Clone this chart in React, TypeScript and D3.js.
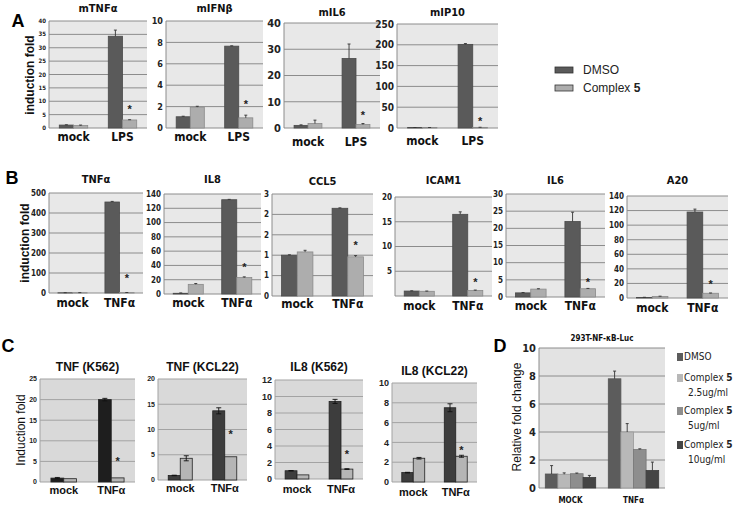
import React from "react";
import * as d3 from "d3";

// ---------- DATA ----------
const CATS_LPS = ["mock", "LPS"];
const CATS_TNF = ["mock", "TNFα"];
const CATS_D = ["MOCK", "TNFα"];

// Panel A
const A1_DMSO = [1.1, 34.3];
const A1_DMSO_ERR = [0.1, 2.3];
const A1_CPX = [0.9, 3.0];
const A1_CPX_ERR = [0.2, 0.1];
const A1_STAR = 8;
const A1_TICKS = [0, 5, 10, 15, 20, 25, 30, 35, 40];

const A2_DMSO = [1.05, 7.65];
const A2_DMSO_ERR = [0.05, 0.03];
const A2_CPX = [1.95, 0.95];
const A2_CPX_ERR = [0.08, 0.25];
const A2_STAR = 2.4;
const A2_TICKS = [0, 2, 4, 6, 8, 10];

const A3_DMSO = [1.0, 26.5];
const A3_DMSO_ERR = [0.2, 5.5];
const A3_CPX = [1.7, 1.3];
const A3_CPX_ERR = [1.3, 0.4];
const A3_STAR = 5.7;
const A3_TICKS = [0, 10, 20, 30, 40];

const A4_DMSO = [1.0, 201];
const A4_DMSO_ERR = [0.2, 2];
const A4_CPX = [1.0, 1.5];
const A4_CPX_ERR = [0.2, 0.3];
const A4_STAR = 22;
const A4_TICKS = [0, 50, 100, 150, 200, 250];

// Panel B
const B1_DMSO = [1, 455];
const B1_DMSO_ERR = [0.5, 3];
const B1_CPX = [1.5, 2];
const B1_CPX_ERR = [0.3, 0.5];
const B1_STAR = 85;
const B1_TICKS = [0, 100, 200, 300, 400, 500];

const B2_DMSO = [1, 132];
const B2_DMSO_ERR = [0.5, 0.5];
const B2_CPX = [13.5, 23];
const B2_CPX_ERR = [1.2, 1];
const B2_STAR = 40;
const B2_TICKS = [0, 20, 40, 60, 80, 100, 120, 140];

const B3_DMSO = [1.0, 2.15];
const B3_DMSO_ERR = [0.01, 0.01];
const B3_CPX = [1.08, 0.96];
const B3_CPX_ERR = [0.04, 0.03];
const B3_STAR = 1.3;
const B3_TICKS = [0, 0.5, 1, 1.5, 2, 2.5];
const B3_TICK_LABELS = ["0", "1", "1", "2", "2", "3"];

const B4_DMSO = [1.0, 16.5];
const B4_DMSO_ERR = [0.05, 0.5];
const B4_CPX = [0.95, 1.1];
const B4_CPX_ERR = [0.05, 0.1];
const B4_STAR = 3.2;
const B4_TICKS = [0, 5, 10, 15, 20];
const B4_TICK_LABELS = ["", "5", "10", "15", "20"];

const B5_DMSO = [1.2, 22];
const B5_DMSO_ERR = [0.1, 2.7];
const B5_CPX = [2.3, 2.4];
const B5_CPX_ERR = [0.1, 0.1];
const B5_STAR = 5;
const B5_TICKS = [0, 5, 10, 15, 20, 25, 30];

const B6_DMSO = [0.8, 118];
const B6_DMSO_ERR = [0.2, 4];
const B6_CPX = [2.2, 6.5];
const B6_CPX_ERR = [0.3, 0.4];
const B6_STAR = 22;
const B6_TICKS = [0, 20, 40, 60, 80, 100, 120, 140];

// Panel C
const C1_DMSO = [0.95, 20];
const C1_DMSO_ERR = [0.15, 0.3];
const C1_CPX = [0.8, 1.0];
const C1_CPX_ERR = [0, 0];
const C1_STAR = 5.5;
const C1_TICKS = [0, 5, 10, 15, 20, 25];

const C2_DMSO = [0.9, 13.7];
const C2_DMSO_ERR = [0.05, 0.6];
const C2_CPX = [4.3, 4.6];
const C2_CPX_ERR = [0.5, 0];
const C2_STAR = 9.5;
const C2_TICKS = [0, 5, 10, 15, 20];

const C3_DMSO = [1.0, 9.4];
const C3_DMSO_ERR = [0.03, 0.25];
const C3_CPX = [0.5, 1.2];
const C3_CPX_ERR = [0, 0.05];
const C3_STAR = 3.3;
const C3_TICKS = [0, 2, 4, 6, 8, 10, 12];

const C4_DMSO = [0.95, 7.5];
const C4_DMSO_ERR = [0.03, 0.4];
const C4_CPX = [2.4, 2.6];
const C4_CPX_ERR = [0.08, 0.1];
const C4_STAR = 3.4;
const C4_TICKS = [0, 2, 4, 6, 8, 10];

// Panel D
const D_DMSO = [1.0, 7.8];
const D_DMSO_ERR = [0.6, 0.55];
const D_C25 = [0.98, 4.0];
const D_C25_ERR = [0.1, 0.6];
const D_C5 = [1.02, 2.75];
const D_C5_ERR = [0.05, 0.05];
const D_C10 = [0.75, 1.25];
const D_C10_ERR = [0.15, 0.6];
const D_TICKS = [0, 2, 4, 6, 8, 10];
const D_LEGEND = [
  ["DMSO"],
  ["Complex ", "5", "2.5ug/ml"],
  ["Complex ", "5", "5ug/ml"],
  ["Complex ", "5", "10ug/ml"],
];

// ---------- STYLE ----------
const NARROW = "'Liberation Sans Narrow','DejaVu Sans Condensed',Arial,sans-serif";
const SANS = "'Liberation Sans',Arial,sans-serif";

type PanelProps = {
  x0: number; x1: number; yTop: number; yBot: number;
  max: number; ticks: number[]; tickLabels?: string[];
  cats: string[]; series: number[][]; errs: number[][];
  fills: string[]; strokes: string[];
  star?: number; title: string; titleX?: number; titleY: number; titleFs: number;
  titleFont?: string;
  tickFs: number; tickFont?: string; catFs: number; catDy: number; catFont?: string;
  bg: string; grid: string; pad: number; both?: boolean; capW?: number;
  errColor?: string;
};

function Panel(p: PanelProps) {
  const y = d3.scaleLinear().domain([0, p.max]).range([p.yBot, p.yTop]);
  const xb = d3.scaleBand<string>().domain(p.cats).range([p.x0, p.x1])
    .paddingInner(p.pad).paddingOuter(p.pad / 2);
  const xs = d3.scaleBand<number>().domain(p.series.map((_, i) => i))
    .range([0, xb.bandwidth()]);
  const capW = p.capW ?? 3;
  const tl = p.tickLabels ?? p.ticks.map(String);
  const tx = p.titleX ?? (p.x0 + p.x1) / 2;
  return (
    <g>
      <rect x={p.x0} y={p.yTop} width={p.x1 - p.x0} height={p.yBot - p.yTop} fill={p.bg} />
      {p.ticks.map((t, i) => (
        t > 0 ? <line key={"g" + i} x1={p.x0} x2={p.x1} y1={y(t)} y2={y(t)} stroke={p.grid} strokeWidth={1} /> : null
      ))}
      <line x1={p.x0} x2={p.x0} y1={p.yTop} y2={p.yBot} stroke={p.grid} />
      <line x1={p.x0} x2={p.x1} y1={p.yBot} y2={p.yBot} stroke={p.grid} />
      {p.ticks.map((t, i) => (
        <text key={"t" + i} x={p.x0 - 3} y={y(t)} dy="0.35em" textAnchor="end"
          fontSize={p.tickFs} fontFamily={p.tickFont ?? NARROW} fontWeight="bold" fill="#222">{tl[i]}</text>
      ))}
      {p.series.map((s, si) => s.map((v, ci) => {
        const bx = (xb(p.cats[ci]) as number) + (xs(si) as number);
        const bw = xs.bandwidth();
        const e = p.errs[si][ci];
        const cx = bx + bw / 2;
        return (
          <g key={si + "-" + ci}>
            <rect x={bx} y={y(v)} width={bw} height={p.yBot - y(v)} fill={p.fills[si]} stroke={p.strokes[si]} strokeWidth={0.8} />
            {e > 0 ? (
              <g stroke={p.errColor ?? "#333"} strokeWidth={0.9}>
                <line x1={cx} x2={cx} y1={y(v + e)} y2={p.both ? y(v - e) : y(v)} />
                <line x1={cx - capW / 2} x2={cx + capW / 2} y1={y(v + e)} y2={y(v + e)} />
                {p.both ? <line x1={cx - capW / 2} x2={cx + capW / 2} y1={y(v - e)} y2={y(v - e)} /> : null}
              </g>
            ) : null}
          </g>
        );
      }))}
      {p.star !== undefined ? (
        <text x={(xb(p.cats[1]) as number) + (xs(1) as number) + xs.bandwidth() / 2} y={y(p.star)} dy="0.55em"
          textAnchor="middle" fontSize={11} fontFamily={SANS} fontWeight="bold" fill="#222">*</text>
      ) : null}
      {p.cats.map((c) => (
        <text key={c} x={(xb(c) as number) + xb.bandwidth() / 2} y={p.yBot + p.catDy} textAnchor="middle"
          fontSize={p.catFs} fontFamily={p.catFont ?? NARROW} fontWeight="bold" fill="#111">{c}</text>
      ))}
      <text x={tx} y={p.titleY} textAnchor="middle" fontSize={p.titleFs} fontFamily={p.titleFont ?? NARROW}
        fontWeight="bold" fill="#111">{p.title}</text>
    </g>
  );
}

const AB_FILLS = ["#5a5a5a", "#adadad"];
const AB_STROKES = ["#4a4a4a", "#8a8a8a"];
const AB_BG = "#e8e8e8";
const AB_GRID = "#8c8c8c";
const D_FILLS = ["#5c5c5c", "#b8b8b8", "#8e8e8e", "#444444"];

export default function App() {
  const ab = { fills: AB_FILLS, strokes: AB_STROKES, bg: AB_BG, grid: AB_GRID, pad: 0.42 };
  const cc = { bg: "#d9d9d9", grid: "#a3a3a3", pad: 0.46, both: true, capW: 5, errColor: "#111",
    titleFont: SANS, catFont: SANS, tickFont: SANS, strokes: ["#222", "#222"] };
  const legendY = [360, 381, 414, 448];
  return (
    <svg width={741} height={516} style={{ position: "absolute", left: 0, top: 0, background: "#fff" }}>
      <rect width={741} height={516} fill="#fff" />
      {/* Panel labels */}
      {[["A", 18, 27], ["B", 12, 184], ["C", 8, 352], ["D", 500, 352]].map(([t, x, yy]) => (
        <text key={t as string} x={x as number} y={yy as number} textAnchor="middle" fontSize={18}
          fontFamily={SANS} fontWeight="bold">{t}</text>
      ))}

      {/* Panel A */}
      <Panel {...ab} x0={49} x1={147} yTop={21} yBot={128} max={40} ticks={A1_TICKS}
        cats={CATS_LPS} series={[A1_DMSO, A1_CPX]} errs={[A1_DMSO_ERR, A1_CPX_ERR]} star={A1_STAR}
        title="mTNFα" titleY={12} titleFs={11} tickFs={6} catFs={12} catDy={13} />
      <Panel {...ab} x0={166} x1={263} yTop={21} yBot={128} max={10} ticks={A2_TICKS}
        cats={CATS_LPS} series={[A2_DMSO, A2_CPX]} errs={[A2_DMSO_ERR, A2_CPX_ERR]} star={A2_STAR}
        title="mIFNβ" titleY={12} titleFs={11} tickFs={9} catFs={12} catDy={13} />
      <Panel {...ab} x0={284} x1={380} yTop={23} yBot={128} max={40} ticks={A3_TICKS}
        cats={CATS_LPS} series={[A3_DMSO, A3_CPX]} errs={[A3_DMSO_ERR, A3_CPX_ERR]} star={A3_STAR}
        title="mIL6" titleY={16} titleFs={11} tickFs={11} catFs={12} catDy={18} />
      <Panel {...ab} x0={397} x1={498} yTop={24} yBot={128} max={250} ticks={A4_TICKS}
        cats={CATS_LPS} series={[A4_DMSO, A4_CPX]} errs={[A4_DMSO_ERR, A4_CPX_ERR]} star={A4_STAR}
        title="mIP10" titleY={16} titleFs={11} tickFs={10} catFs={12} catDy={17} />
      <text transform="translate(34,75) rotate(-90)" textAnchor="middle" fontSize={12} fontFamily={SANS}
        fontWeight="bold" fill="#111">induction fold</text>
      {/* Legend A */}
      <rect x={555} y={67} width={18} height={6} fill={AB_FILLS[0]} stroke="#333" strokeWidth={0.8} />
      <text x={583} y={74} fontSize={12} fontFamily={SANS} fill="#222">DMSO</text>
      <rect x={555} y={85} width={18} height={6} fill={AB_FILLS[1]} stroke="#333" strokeWidth={0.8} />
      <text x={583} y={92} fontSize={12} fontFamily={SANS} fill="#222">Complex <tspan fontWeight="bold">5</tspan></text>

      {/* Panel B */}
      <Panel {...ab} pad={0.38} x0={49} x1={143} yTop={193} yBot={293} max={500} ticks={B1_TICKS}
        cats={CATS_TNF} series={[B1_DMSO, B1_CPX]} errs={[B1_DMSO_ERR, B1_CPX_ERR]} star={B1_STAR}
        title="TNFα" titleY={183} titleFs={11} tickFs={8} catFs={12} catDy={14} />
      <Panel {...ab} pad={0.38} x0={164} x1={261} yTop={194} yBot={294} max={140} ticks={B2_TICKS}
        cats={CATS_TNF} series={[B2_DMSO, B2_CPX]} errs={[B2_DMSO_ERR, B2_CPX_ERR]} star={B2_STAR}
        title="IL8" titleY={183} titleFs={11} tickFs={8} catFs={12} catDy={13} />
      <Panel {...ab} pad={0.38} x0={272} x1={373} yTop={194} yBot={296} max={2.5} ticks={B3_TICKS}
        tickLabels={B3_TICK_LABELS}
        cats={CATS_TNF} series={[B3_DMSO, B3_CPX]} errs={[B3_DMSO_ERR, B3_CPX_ERR]} star={B3_STAR}
        title="CCL5" titleY={185} titleFs={11} tickFs={8} catFs={12} catDy={12} />
      <Panel {...ab} pad={0.38} x0={395} x1={492} yTop={197} yBot={296} max={20} ticks={B4_TICKS}
        tickLabels={B4_TICK_LABELS}
        cats={CATS_TNF} series={[B4_DMSO, B4_CPX]} errs={[B4_DMSO_ERR, B4_CPX_ERR]} star={B4_STAR}
        title="ICAM1" titleY={184} titleFs={11} tickFs={8} catFs={12} catDy={14} />
      <Panel {...ab} pad={0.38} x0={506} x1={605} yTop={194} yBot={297} max={30} ticks={B5_TICKS}
        cats={CATS_TNF} series={[B5_DMSO, B5_CPX]} errs={[B5_DMSO_ERR, B5_CPX_ERR]} star={B5_STAR}
        title="IL6" titleY={184} titleFs={11} tickFs={8} catFs={12} catDy={13} />
      <Panel {...ab} pad={0.38} x0={627} x1={728} yTop={196} yBot={298} max={140} ticks={B6_TICKS}
        cats={CATS_TNF} series={[B6_DMSO, B6_CPX]} errs={[B6_DMSO_ERR, B6_CPX_ERR]} star={B6_STAR}
        title="A20" titleY={184} titleFs={11} tickFs={8} catFs={12} catDy={14} />
      <text transform="translate(29,243) rotate(-90)" textAnchor="middle" fontSize={12} fontFamily={SANS}
        fontWeight="bold" fill="#111">induction fold</text>

      {/* Panel C */}
      <Panel {...cc} fills={["#1e1e1e", "#b5b5b5"]} x0={40} x1={135} yTop={379} yBot={482} max={25} ticks={C1_TICKS}
        cats={CATS_TNF} series={[C1_DMSO, C1_CPX]} errs={[C1_DMSO_ERR, C1_CPX_ERR]} star={C1_STAR}
        title="TNF (K562)" titleY={371} titleFs={12} tickFs={7} catFs={11} catDy={12} />
      <Panel {...cc} fills={["#3d3d3d", "#b5b5b5"]} x0={158} x1={247} yTop={379} yBot={480} max={20} ticks={C2_TICKS}
        cats={CATS_TNF} series={[C2_DMSO, C2_CPX]} errs={[C2_DMSO_ERR, C2_CPX_ERR]} star={C2_STAR}
        title="TNF (KCL22)" titleY={371} titleFs={12} tickFs={7} catFs={11} catDy={12} />
      <Panel {...cc} fills={["#3d3d3d", "#b5b5b5"]} x0={275} x1={363} yTop={380} yBot={479} max={12} ticks={C3_TICKS}
        cats={CATS_TNF} series={[C3_DMSO, C3_CPX]} errs={[C3_DMSO_ERR, C3_CPX_ERR]} star={C3_STAR}
        title="IL8 (K562)" titleY={371} titleFs={12} tickFs={9} catFs={11} catDy={14} />
      <Panel {...cc} fills={["#3d3d3d", "#b5b5b5"]} x0={392} x1={477} yTop={383} yBot={482} max={10} ticks={C4_TICKS}
        cats={CATS_TNF} series={[C4_DMSO, C4_CPX]} errs={[C4_DMSO_ERR, C4_CPX_ERR]} star={C4_STAR}
        title="IL8 (KCL22)" titleY={375} titleFs={12} tickFs={9} catFs={11} catDy={14} />
      <text transform="translate(25,430) rotate(-90)" textAnchor="middle" fontSize={12} fontFamily={SANS}
        fill="#111">Induction fold</text>

      {/* Panel D */}
      <Panel bg="#e3e3e3" grid="#8c8c8c" pad={0.2} x0={539} x1={665} yTop={348} yBot={488} max={10} ticks={D_TICKS}
        cats={CATS_D} series={[D_DMSO, D_C25, D_C5, D_C10]} errs={[D_DMSO_ERR, D_C25_ERR, D_C5_ERR, D_C10_ERR]}
        fills={D_FILLS} strokes={["#555", "#999", "#777", "#3a3a3a"]}
        title="293T-NF-κB-Luc" titleY={341} titleFs={8} tickFs={11} catFs={8} catDy={15} capW={3} />
      <text transform="translate(521,417) rotate(-90)" textAnchor="middle" fontSize={12} fontFamily={SANS}
        fill="#111">Relative fold change</text>
      {D_LEGEND.map((item, i) => {
        const yy = legendY[i];
        return (
          <g key={i}>
            <rect x={677} y={yy - 7} width={6} height={8} fill={D_FILLS[i]} />
            <text x={684} y={yy} fontSize={10} fontFamily={NARROW} fill="#222">
              {item[0]}{item[1] ? <tspan fontWeight="bold">{item[1]}</tspan> : null}
            </text>
            {item[2] ? <text x={688} y={yy + 15} fontSize={10} fontFamily={NARROW} fill="#222">{item[2]}</text> : null}
          </g>
        );
      })}
    </svg>
  );
}
